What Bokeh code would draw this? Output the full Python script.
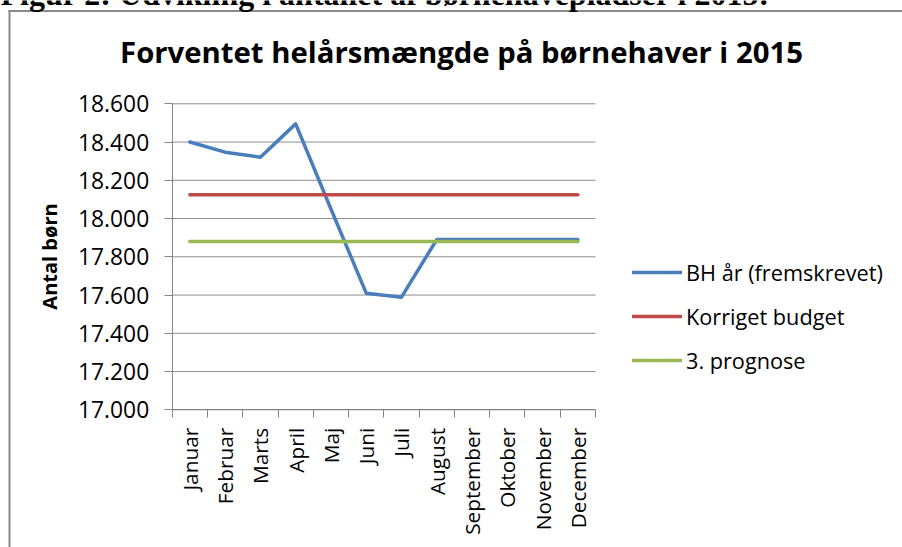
import numpy as np
from bokeh.plotting import figure
from bokeh.models import (Range1d, FixedTicker, Legend, LegendItem, Label,
                          BoxAnnotation)
from bokeh.embed import file_html
from bokeh.resources import INLINE

# ---- data ----
months = ["Januar", "Februar", "Marts", "April", "Maj", "Juni", "Juli",
          "August", "September", "Oktober", "November", "December"]
bh_aar = [18400, 18347, 18321, 18495, 18050, 17610, 17589,
          17890, 17890, 17890, 17890, 17890]
korr_budget = [18125, 18125, 18125, 18125, 18125, 18125, 18125,
               18125, 18125, 18125, 18125, 18125]
prognose3 = [17880, 17880, 17880, 17880, 17880, 17880, 17880,
             17880, 17880, 17880, 17880, 17880]
y_ticks = [17000, 17200, 17400, 17600, 17800, 18000, 18200, 18400, 18600]
y_tick_labels = ["17.000", "17.200", "17.400", "17.600", "17.800",
                 "18.000", "18.200", "18.400", "18.600"]
series_names = ["BH år (fremskrevet)", "Korriget budget", "3. prognose"]
title_text = "Forventet helårsmængde på børnehaver i 2015"
header_text = "Figur 2: Udvikling i antallet af børnehavepladser i 2015:"
y_title = "Antal børn"

FONT = "Open Sans"
W, H = 902, 547
# pixel box of the plotting area inside the canvas
PL, PR, PT, PB = 171.7, 595.0, 103.3, 409.3

n = len(months)
x_pos = np.arange(n) + 0.5
bounds = list(np.arange(n + 1).astype(float))

# ranges chosen so that the plotting area lands on the pixel box above
ux = n / (PR - PL)
x0 = 0 - PL * ux
x1 = x0 + W * ux
uy = (y_ticks[-1] - y_ticks[0]) / (PB - PT)
y1 = y_ticks[-1] + PT * uy
y0 = y_ticks[0] - (H - PB) * uy

p = figure(width=W, height=H, output_backend="svg", toolbar_location=None,
           title=None, x_range=Range1d(x0, x1), y_range=Range1d(y0, y1),
           min_border=0, min_border_left=0, min_border_right=0,
           min_border_top=0, min_border_bottom=0)
p.outline_line_color = None
p.background_fill_color = "white"
p.border_fill_color = "white"
p.xgrid.visible = False
p.ygrid.visible = False

# outer chart border (left and top)
for l, r, t, b in [(8, 10, H - 9.5, 0), (8, W, H - 9.5, H - 11.5)]:
    p.add_layout(BoxAnnotation(left=l, right=r, top=t, bottom=b,
                               left_units="screen", right_units="screen",
                               top_units="screen", bottom_units="screen",
                               fill_color="#8a8a8a", fill_alpha=1,
                               line_color=None, level="underlay"))

# horizontal gridlines over the category extent
p.segment(x0=[bounds[0]] * len(y_ticks), x1=[bounds[-1]] * len(y_ticks),
          y0=y_ticks, y1=y_ticks, line_color="#8c8c8c", line_width=1)

# x axis
xa = p.xaxis[0]
xa.fixed_location = y_ticks[0]
xa.bounds = (bounds[0], bounds[-1])
xa.ticker = FixedTicker(ticks=list(x_pos), minor_ticks=bounds)
xa.major_label_overrides = {float(x): m for x, m in zip(x_pos, months)}
xa.major_label_orientation = np.pi / 2
xa.major_tick_out = 0
xa.major_tick_in = 0
xa.minor_tick_out = 8
xa.minor_tick_in = 0
xa.minor_tick_line_color = "#868686"
xa.axis_line_color = "#868686"
xa.major_label_standoff = 10
xa.major_label_text_font = FONT
xa.major_label_text_font_size = "20.8px"
xa.major_label_text_color = "black"

# y axis
ya = p.yaxis[0]
ya.fixed_location = bounds[0]
ya.bounds = (y_ticks[0], y_ticks[-1])
ya.ticker = FixedTicker(ticks=y_ticks)
ya.major_label_overrides = {t: l for t, l in zip(y_ticks, y_tick_labels)}
ya.major_tick_out = 8
ya.major_tick_in = 0
ya.minor_tick_out = 0
ya.minor_tick_in = 0
ya.major_tick_line_color = "#868686"
ya.axis_line_color = "#868686"
ya.major_label_standoff = 15
ya.major_label_text_font = FONT
ya.major_label_text_font_size = "22.8px"
ya.major_label_text_color = "black"
ya.axis_label = y_title
ya.axis_label_text_font = FONT
ya.axis_label_text_font_size = "20px"
ya.axis_label_text_font_style = "bold"
ya.axis_label_text_color = "black"
ya.axis_label_standoff = 12

colors = ["#4A7EBB", "#BE4B48", "#98B954"]
rs = []
for vals, c in zip([bh_aar, korr_budget, prognose3], colors):
    r = p.line(x_pos, vals, line_color=c, line_width=3.5,
               line_cap="round", line_join="round")
    rs.append(r)

legend = Legend(items=[LegendItem(label=nm, renderers=[r]) for nm, r in zip(series_names, rs)],
                location=(632, H - 375))
legend.padding = 0
legend.margin = 0
legend.spacing = 14
legend.glyph_width = 50
legend.glyph_height = 30
legend.label_height = 30
legend.label_standoff = 4
legend.label_text_font = FONT
legend.label_text_font_size = "21.7px"
legend.label_text_color = "black"
legend.background_fill_alpha = 0
legend.border_line_color = None
p.add_layout(legend, "center")

# chart title and the (cut-off) figure caption above the chart
p.add_layout(Label(text=title_text, x=461, y=H - 51.2, x_units="screen", y_units="screen",
                   text_align="center", text_baseline="alphabetic",
                   text_font=FONT, text_font_size="29.3px", text_font_style="bold",
                   text_color="black"))
p.add_layout(Label(text=header_text, x=0, y=H + 7, x_units="screen", y_units="screen",
                   text_align="left", text_baseline="alphabetic",
                   text_font="Liberation Serif", text_font_size="32px",
                   text_font_style="bold", text_color="black"))

open("out.html", "w").write(file_html(p, INLINE))
